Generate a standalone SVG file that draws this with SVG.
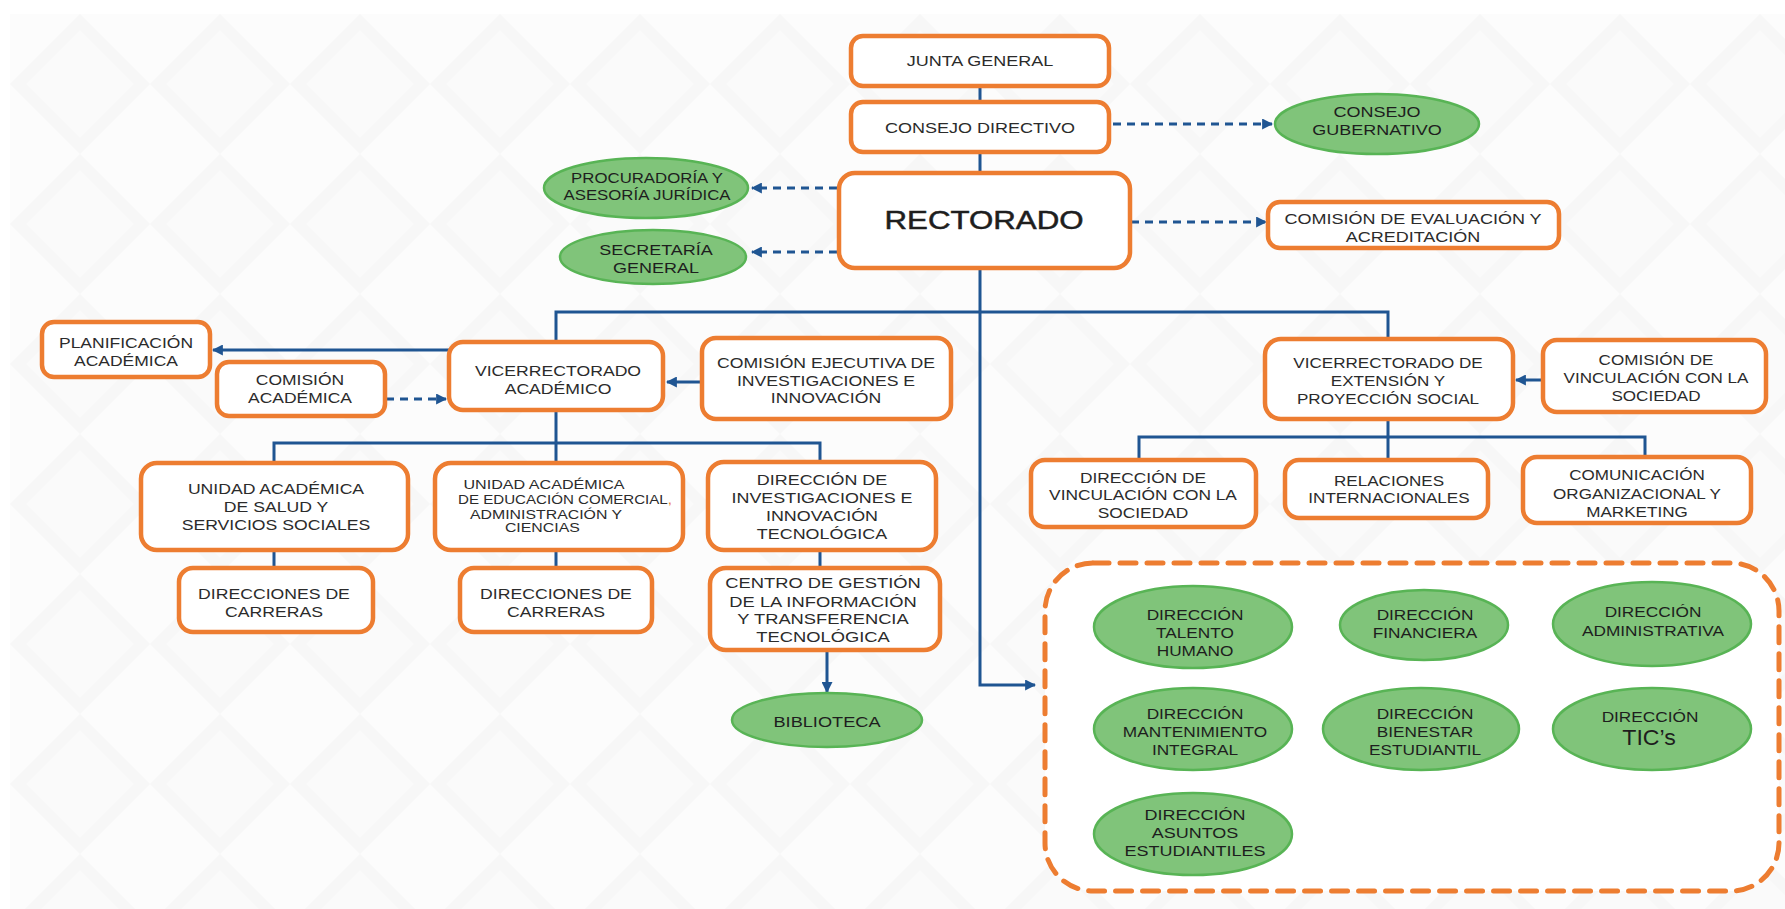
<svg xmlns="http://www.w3.org/2000/svg" width="1785" height="909" viewBox="0 0 1785 909">
<style>
.box{fill:#fff;stroke:#ED7D31;stroke-width:4.5}
.ell{fill:#80C47A;stroke:#58B455;stroke-width:2.5}
.t{font-family:'Liberation Sans',Arial,sans-serif;font-size:14px;fill:#2b2b2b;text-anchor:middle}
.g{fill:#1e1e1e}
.s12{font-size:12px}
.s13{font-size:13px}
.s15{font-size:15px}
.s22{font-size:22px}
.s24{font-size:25px;stroke:#1e1e1e;stroke-width:0.5}
.c{fill:none;stroke:#1F5592;stroke-width:3}
.d{stroke-dasharray:8 6}
.grp{fill:#fff;stroke:#ED7D31;stroke-width:5;stroke-dasharray:16 11;stroke-linecap:round}
</style>
<defs>
<marker id="ah" viewBox="0 0 10 10" refX="9" refY="5" markerWidth="11" markerHeight="11" markerUnits="userSpaceOnUse" orient="auto">
<path d="M0,0 L10,5 L0,10 z" fill="#1F5592"/>
</marker>
<pattern id="bgp" x="10" y="14" width="140" height="140" patternUnits="userSpaceOnUse">
<rect width="140" height="140" fill="#FCFCFC"/>
<path d="M70,0 L140,70 L70,140 L0,70 z" fill="#F7F7F7"/>
<path d="M70,16 L124,70 L70,124 L16,70 z" fill="#FAFAFA"/>
</pattern>
</defs>
<rect width="1785" height="909" fill="#fff"/>
<rect x="10" y="14" width="1775" height="895" fill="url(#bgp)"/>

<g id="connectors">
<path class="c" d="M980,86 V102"/>
<path class="c" d="M980,152 V173"/>
<path class="c d" d="M1113,124 H1272" marker-end="url(#ah)"/>
<path class="c d" d="M1131,222 H1266" marker-end="url(#ah)"/>
<path class="c d" d="M837,188 H752" marker-end="url(#ah)"/>
<path class="c d" d="M837,252 H752" marker-end="url(#ah)"/>
<path class="c" d="M980,268 V685 H1035" marker-end="url(#ah)"/>
<path class="c" d="M556,342 V312 H1388 V339"/>
<path class="c" d="M449,350 H213" marker-end="url(#ah)"/>
<path class="c d" d="M386,399 H446" marker-end="url(#ah)"/>
<path class="c" d="M702,382 H667" marker-end="url(#ah)"/>
<path class="c" d="M556,410 V463"/>
<path class="c" d="M274,463 V443 H820 V462"/>
<path class="c" d="M274,550 V568"/>
<path class="c" d="M556,550 V568"/>
<path class="c" d="M820,550 V568"/>
<path class="c" d="M827,650 V692" marker-end="url(#ah)"/>
<path class="c" d="M1543,380 H1516" marker-end="url(#ah)"/>
<path class="c" d="M1388,419 V460"/>
<path class="c" d="M1139,460 V437 H1645 V457"/>
</g>

<g id="junta-general"><rect class="box" x="851" y="36" width="258" height="50" rx="12"/>
<text class="t s15" transform="matrix(1.2 0 0 1 980 0)"><tspan x="0" y="66">JUNTA GENERAL</tspan></text></g>

<g id="consejo-directivo"><rect class="box" x="851" y="102" width="258" height="50" rx="12"/>
<text class="t s15" transform="matrix(1.2 0 0 1 980 0)"><tspan x="0" y="133">CONSEJO DIRECTIVO</tspan></text></g>

<g id="consejo-gubernativo"><ellipse class="ell" cx="1377" cy="124" rx="102" ry="30"/>
<text class="t g s15" transform="matrix(1.2 0 0 1 1377 0)"><tspan x="0" y="117">CONSEJO</tspan><tspan x="0" y="135">GUBERNATIVO</tspan></text></g>

<g id="rectorado"><rect class="box" x="839" y="173" width="291" height="95" rx="16"/>
<text class="t g s24" transform="matrix(1.25 0 0 1 984 0)"><tspan x="0" y="229">RECTORADO</tspan></text></g>

<g id="comision-evaluacion"><rect class="box" x="1268" y="202" width="291" height="46" rx="12"/>
<text class="t s15" transform="matrix(1.2 0 0 1 1413 0)"><tspan x="0" y="224">COMISIÓN DE EVALUACIÓN Y</tspan><tspan x="0" y="242">ACREDITACIÓN</tspan></text></g>

<g id="procuraduria"><ellipse class="ell" cx="646" cy="188" rx="102" ry="30"/>
<text class="t g" transform="matrix(1.2 0 0 1 647 0)"><tspan x="0" y="183">PROCURADORÍA Y</tspan><tspan x="0" y="200">ASESORÍA JURÍDICA</tspan></text></g>

<g id="secretaria-general"><ellipse class="ell" cx="653" cy="257" rx="93" ry="27"/>
<text class="t g s15" transform="matrix(1.2 0 0 1 656 0)"><tspan x="0" y="255">SECRETARÍA</tspan><tspan x="0" y="273">GENERAL</tspan></text></g>

<g id="planificacion-academica"><rect class="box" x="42" y="322" width="168" height="55" rx="12"/>
<text class="t" transform="matrix(1.25 0 0 1 126 0)"><tspan x="0" y="348">PLANIFICACIÓN</tspan><tspan x="0" y="366">ACADÉMICA</tspan></text></g>

<g id="comision-academica"><rect class="box" x="217" y="362" width="168" height="54" rx="12"/>
<text class="t" transform="matrix(1.25 0 0 1 300 0)"><tspan x="0" y="385">COMISIÓN</tspan><tspan x="0" y="403">ACADÉMICA</tspan></text></g>

<g id="vicerrectorado-academico"><rect class="box" x="449" y="342" width="214" height="68" rx="14"/>
<text class="t" transform="matrix(1.26 0 0 1 558 0)"><tspan x="0" y="376">VICERRECTORADO</tspan><tspan x="0" y="394">ACADÉMICO</tspan></text></g>

<g id="comision-ejecutiva"><rect class="box" x="702" y="338" width="249" height="81" rx="14"/>
<text class="t" transform="matrix(1.26 0 0 1 826 0)"><tspan x="0" y="368">COMISIÓN EJECUTIVA DE</tspan><tspan x="0" y="386">INVESTIGACIONES E</tspan><tspan x="0" y="403">INNOVACIÓN</tspan></text></g>

<g id="unidad-salud"><rect class="box" x="141" y="463" width="267" height="87" rx="16"/>
<text class="t" transform="matrix(1.26 0 0 1 276 0)"><tspan x="0" y="494">UNIDAD ACADÉMICA</tspan><tspan x="0" y="512">DE SALUD Y</tspan><tspan x="0" y="530">SERVICIOS SOCIALES</tspan></text></g>

<g id="unidad-educacion"><rect class="box" x="435" y="463" width="248" height="87" rx="16"/>
<text class="t s13" transform="matrix(1.24 0 0 1 544 0)"><tspan x="0" y="489">UNIDAD ACADÉMICA</tspan></text>
<text class="t s12" transform="matrix(1.26 0 0 1 565 0)"><tspan x="0" y="504">DE EDUCACIÓN COMERCIAL<tspan style="fill:#ED7D31">,</tspan></tspan></text>
<text class="t s13" transform="matrix(1.22 0 0 1 546 0)"><tspan x="0" y="519">ADMINISTRACIÓN Y</tspan><tspan x="-3" y="532">CIENCIAS</tspan></text></g>

<g id="direccion-investigaciones"><rect class="box" x="708" y="462" width="228" height="88" rx="16"/>
<text class="t" transform="matrix(1.28 0 0 1 822 0)"><tspan x="0" y="485">DIRECCIÓN DE</tspan><tspan x="0" y="503">INVESTIGACIONES E</tspan><tspan x="0" y="521">INNOVACIÓN</tspan><tspan x="0" y="539">TECNOLÓGICA</tspan></text></g>

<g id="direcciones-carreras-1"><rect class="box" x="179" y="568" width="194" height="64" rx="14"/>
<text class="t" transform="matrix(1.26 0 0 1 274 0)"><tspan x="0" y="599">DIRECCIONES DE</tspan><tspan x="0" y="617">CARRERAS</tspan></text></g>

<g id="direcciones-carreras-2"><rect class="box" x="460" y="568" width="192" height="64" rx="14"/>
<text class="t" transform="matrix(1.26 0 0 1 556 0)"><tspan x="0" y="599">DIRECCIONES DE</tspan><tspan x="0" y="617">CARRERAS</tspan></text></g>

<g id="centro-gestion"><rect class="box" x="710" y="568" width="230" height="82" rx="16"/>
<text class="t" transform="matrix(1.31 0 0 1 823 0)"><tspan x="0" y="588">CENTRO DE GESTIÓN</tspan><tspan x="0" y="607">DE LA INFORMACIÓN</tspan><tspan x="0" y="624">Y TRANSFERENCIA</tspan><tspan x="0" y="642">TECNOLÓGICA</tspan></text></g>

<g id="biblioteca"><ellipse class="ell" cx="827" cy="720" rx="95" ry="27"/>
<text class="t g" transform="matrix(1.3 0 0 1 827 0)"><tspan x="0" y="727">BIBLIOTECA</tspan></text></g>

<g id="vicerrectorado-extension"><rect class="box" x="1265" y="339" width="248" height="80" rx="16"/>
<text class="t" transform="matrix(1.22 0 0 1 1388 0)"><tspan x="0" y="368">VICERRECTORADO DE</tspan><tspan x="0" y="386">EXTENSIÓN Y</tspan><tspan x="0" y="404">PROYECCIÓN SOCIAL</tspan></text></g>

<g id="comision-vinculacion"><rect class="box" x="1543" y="340" width="223" height="72" rx="14"/>
<text class="t" transform="matrix(1.22 0 0 1 1656 0)"><tspan x="0" y="365">COMISIÓN DE</tspan><tspan x="0" y="383">VINCULACIÓN CON LA</tspan><tspan x="0" y="401">SOCIEDAD</tspan></text></g>

<g id="direccion-vinculacion"><rect class="box" x="1031" y="460" width="225" height="67" rx="14"/>
<text class="t" transform="matrix(1.24 0 0 1 1143 0)"><tspan x="0" y="483">DIRECCIÓN DE</tspan><tspan x="0" y="500">VINCULACIÓN CON LA</tspan><tspan x="0" y="518">SOCIEDAD</tspan></text></g>

<g id="relaciones-internacionales"><rect class="box" x="1285" y="460" width="203" height="58" rx="14"/>
<text class="t" transform="matrix(1.22 0 0 1 1389 0)"><tspan x="0" y="486">RELACIONES</tspan><tspan x="0" y="503">INTERNACIONALES</tspan></text></g>

<g id="comunicacion"><rect class="box" x="1523" y="457" width="228" height="66" rx="14"/>
<text class="t" transform="matrix(1.22 0 0 1 1637 0)"><tspan x="0" y="480">COMUNICACIÓN</tspan><tspan x="0" y="499">ORGANIZACIONAL Y</tspan><tspan x="0" y="517">MARKETING</tspan></text></g>

<g id="direcciones-administrativas">
<rect class="grp" x="1045" y="563" width="734" height="328" rx="48"/>
</g>

<g id="dir-talento-humano"><ellipse class="ell" cx="1193" cy="627" rx="99" ry="41"/>
<text class="t g s15" transform="matrix(1.15 0 0 1 1195 0)"><tspan x="0" y="620">DIRECCIÓN</tspan><tspan x="0" y="638">TALENTO</tspan><tspan x="0" y="656">HUMANO</tspan></text></g>

<g id="dir-financiera"><ellipse class="ell" cx="1424" cy="625" rx="84" ry="35"/>
<text class="t g s15" transform="matrix(1.15 0 0 1 1425 0)"><tspan x="0" y="620">DIRECCIÓN</tspan><tspan x="0" y="638">FINANCIERA</tspan></text></g>

<g id="dir-administrativa"><ellipse class="ell" cx="1652" cy="624" rx="99" ry="42"/>
<text class="t g s15" transform="matrix(1.15 0 0 1 1653 0)"><tspan x="0" y="617">DIRECCIÓN</tspan><tspan x="0" y="636">ADMINISTRATIVA</tspan></text></g>

<g id="dir-mantenimiento"><ellipse class="ell" cx="1193" cy="729" rx="99" ry="41"/>
<text class="t g s15" transform="matrix(1.15 0 0 1 1195 0)"><tspan x="0" y="719">DIRECCIÓN</tspan><tspan x="0" y="737">MANTENIMIENTO</tspan><tspan x="0" y="755">INTEGRAL</tspan></text></g>

<g id="dir-bienestar"><ellipse class="ell" cx="1421" cy="729" rx="98" ry="41"/>
<text class="t g s15" transform="matrix(1.15 0 0 1 1425 0)"><tspan x="0" y="719">DIRECCIÓN</tspan><tspan x="0" y="737">BIENESTAR</tspan><tspan x="0" y="755">ESTUDIANTIL</tspan></text></g>

<g id="dir-tics"><ellipse class="ell" cx="1652" cy="729" rx="99" ry="41"/>
<text class="t g s15" transform="matrix(1.15 0 0 1 1650 0)"><tspan x="0" y="722">DIRECCIÓN</tspan></text>
<text class="t g s22" transform="matrix(1.05 0 0 1 1649 0)"><tspan x="0" y="745">TIC’s</tspan></text></g>

<g id="dir-asuntos"><ellipse class="ell" cx="1193" cy="834" rx="99" ry="41"/>
<text class="t g s15" transform="matrix(1.2 0 0 1 1195 0)"><tspan x="0" y="820">DIRECCIÓN</tspan><tspan x="0" y="838">ASUNTOS</tspan><tspan x="0" y="856">ESTUDIANTILES</tspan></text></g>
</svg>
